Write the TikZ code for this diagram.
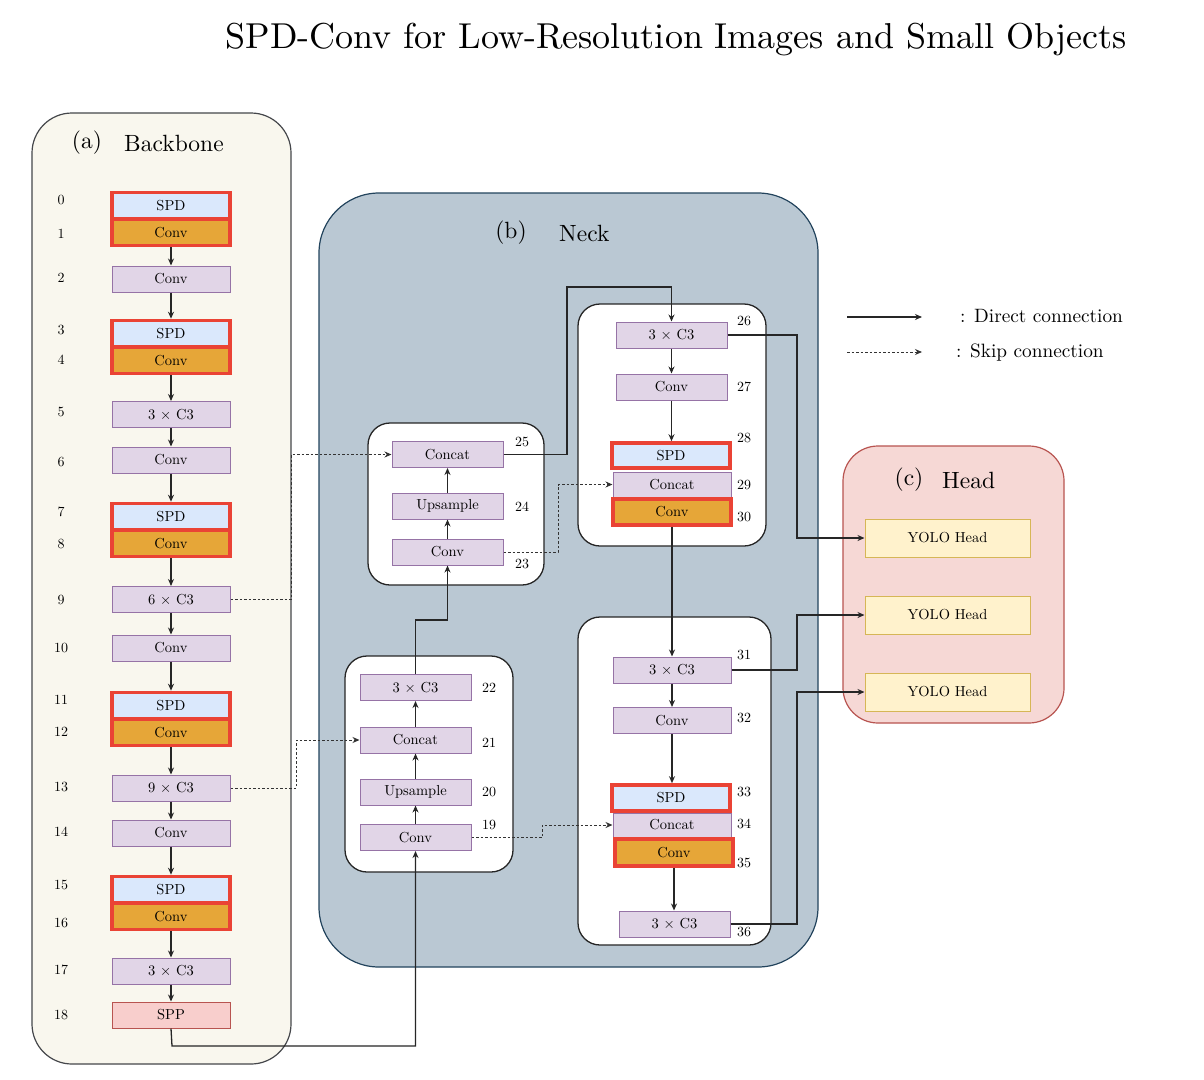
\documentclass[tikz,border=0pt]{standalone}
\usepackage{fontspec}
\setmainfont{lmroman10-regular.otf}
\usetikzlibrary{arrows.meta,calc}
\definecolor{bbFill}{HTML}{F9F7EE}
\definecolor{bbDraw}{HTML}{45474B}
\definecolor{neckFill}{HTML}{BAC8D3}
\definecolor{neckDraw}{HTML}{23445D}
\definecolor{headFill}{HTML}{F6D8D5}
\definecolor{headDraw}{HTML}{B85450}
\definecolor{purF}{HTML}{E1D5E7}
\definecolor{purD}{HTML}{9673A6}
\definecolor{spdF}{HTML}{DAE8FC}
\definecolor{convF}{HTML}{E6A638}
\definecolor{redD}{HTML}{EA4335}
\definecolor{sppF}{HTML}{F8CECC}
\definecolor{sppD}{HTML}{B85450}
\definecolor{yoF}{HTML}{FFF2CC}
\definecolor{yoD}{HTML}{D6B656}
\newcommand\fsNode{\fontsize{14.5}{16}\selectfont}
\newcommand\fsLab{\fontsize{14}{16}\selectfont}
\newcommand\fsHead{\fontsize{23.5}{26}\selectfont}
\tikzset{
  blk/.style={draw=purD, fill=purF, line width=1pt, minimum width=#1, minimum height=26pt, inner sep=0pt, font=\fsNode},
  blk/.default=118pt,
  spdbox/.style={draw=redD, fill=spdF, line width=3.6pt, minimum width=#1, minimum height=26pt, inner sep=0pt, font=\fsNode},
  spdbox/.default=118pt,
  convbox/.style={draw=redD, fill=convF, line width=3.6pt, minimum width=#1, minimum height=26pt, inner sep=0pt, font=\fsNode},
  convbox/.default=118pt,
  sppbox/.style={draw=sppD, fill=sppF, line width=1pt, minimum width=118pt, minimum height=26pt, inner sep=0pt, font=\fsNode},
  yolo/.style={draw=yoD, fill=yoF, line width=1pt, minimum width=165pt, minimum height=38pt, inner sep=0pt, font=\fsNode},
  lab/.style={font=\fsLab, inner sep=0pt},
  grp/.style={draw=black!85, fill=white, line width=1.3pt, rounded corners=22pt},
  arr/.style={draw=black!85, line width=1.3pt, -{Stealth[length=7pt,width=6pt]}},
  skp/.style={draw=black!80, line width=1pt, dash pattern=on 2.5pt off 2pt, -{Stealth[length=7pt,width=6pt]}},
}
\begin{document}
\begin{tikzpicture}[x=1pt,y=-1pt]
\useasboundingbox[fill=white] (0,0) rectangle (1204,1079);

% title
\node[font=\fontsize{36}{40}\selectfont, inner sep=0pt] (title) at (676,40) {SPD-Conv for Low-Resolution Images and Small Objects};

% containers
\draw[fill=bbFill, draw=bbDraw, line width=1.2pt, rounded corners=40pt] (32,113) rectangle (291,1064);
\draw[fill=neckFill, draw=neckDraw, line width=1.2pt, rounded corners=60pt] (319,193) rectangle (818,967);
\draw[fill=headFill, draw=headDraw, line width=1.2pt, rounded corners=35pt] (843,446) rectangle (1064,723);
\draw[grp] (345,656) rectangle (513,872);
\draw[grp] (368,423) rectangle (544,585);
\draw[grp] (578,304) rectangle (766,546);
\draw[grp] (578,617) rectangle (771,945);

% headings
\node[font=\fsHead, inner sep=0pt] (ha1) at (87,143) {(a)};
\node[font=\fsHead, inner sep=0pt, anchor=west] (ha2) at (124,143) {Backbone};
\node[font=\fsHead, inner sep=0pt] (hb1) at (511,233) {(b)};
\node[font=\fsHead, inner sep=0pt, anchor=west] (hb2) at (559,233) {Neck};
\node[font=\fsHead, inner sep=0pt] (hc1) at (909,480) {(c)};
\node[font=\fsHead, inner sep=0pt, anchor=west] (hc2) at (942,480) {Head};

% backbone nodes
\node[spdbox] (s0) at (171,205.5) {SPD};
\node[convbox] (c1) at (171,232.5) {Conv};
\node[blk] (n2) at (171,279) {Conv};
\node[spdbox] (s3) at (171,333.5) {SPD};
\node[convbox] (c4) at (171,360.5) {Conv};
\node[blk] (n5) at (171,414.5) {3 $\times$ C3};
\node[blk] (n6) at (171,460) {Conv};
\node[spdbox] (s7) at (171,516.5) {SPD};
\node[convbox] (c8) at (171,543.5) {Conv};
\node[blk] (n9) at (171,599.5) {6 $\times$ C3};
\node[blk] (n10) at (171,648) {Conv};
\node[spdbox] (s11) at (171,705.5) {SPD};
\node[convbox] (c12) at (171,732.5) {Conv};
\node[blk] (n13) at (171,788) {9 $\times$ C3};
\node[blk] (n14) at (171,833) {Conv};
\node[spdbox] (s15) at (171,889.5) {SPD};
\node[convbox] (c16) at (171,916.5) {Conv};
\node[blk] (n17) at (171,971) {3 $\times$ C3};
\node[sppbox] (n18) at (171,1015) {SPP};

% backbone labels
\foreach \t/\yy in {0/200,1/234,2/278,3/330,4/360,5/412,6/462,7/512,8/544,9/600,10/648,11/700,12/732,13/787,14/832,15/885,16/923,17/970,18/1015}
  \node[lab] (lb\t) at (61,\yy) {\t};

% neck group 1
\node[blk=111pt] (n22) at (415.5,687.5) {3 $\times$ C3};
\node[blk=111pt] (n21) at (415.5,740) {Concat};
\node[blk=111pt] (n20) at (415.5,792) {Upsample};
\node[blk=111pt] (n19) at (415.5,837.5) {Conv};
\node[lab] (lb22) at (489,688) {22};
\node[lab] (lb21) at (489,743) {21};
\node[lab] (lb20) at (489,792) {20};
\node[lab] (lb19) at (489,825) {19};

% neck group 2
\node[blk=111pt] (n25) at (447.5,454.5) {Concat};
\node[blk=111pt] (n24) at (447.5,506) {Upsample};
\node[blk=111pt] (n23) at (447.5,552) {Conv};
\node[lab] (lb25) at (522,442) {25};
\node[lab] (lb24) at (522,507) {24};
\node[lab] (lb23) at (522,564) {23};

% neck group 3
\node[blk=111pt] (n26) at (671.5,335) {3 $\times$ C3};
\node[blk=111pt] (n27) at (671.5,387) {Conv};
\node[spdbox, minimum height=25pt] (s28) at (671,455.5) {SPD};
\node[blk, minimum height=25pt] (cc29) at (672,484.5) {Concat};
\node[convbox] (c30) at (672,512) {Conv};
\node[lab] (lb26) at (744,321) {26};
\node[lab] (lb27) at (744,387) {27};
\node[lab] (lb28) at (744,438) {28};
\node[lab] (lb29) at (744,485) {29};
\node[lab] (lb30) at (744,517) {30};

% neck group 4
\node[blk] (n31) at (672,670) {3 $\times$ C3};
\node[blk] (n32) at (672,720.5) {Conv};
\node[spdbox] (s33) at (671,798) {SPD};
\node[blk, minimum height=24pt] (cc34) at (672,825) {Concat};
\node[convbox, minimum height=27pt] (c35) at (674,852.5) {Conv};
\node[blk=111pt] (n36) at (674.5,924) {3 $\times$ C3};
\node[lab] (lb31) at (744,655) {31};
\node[lab] (lb32) at (744,718) {32};
\node[lab] (lb33) at (744,792) {33};
\node[lab] (lb34) at (744,824) {34};
\node[lab] (lb35) at (744,863) {35};
\node[lab] (lb36) at (744,932) {36};

% head
\node[yolo] (y1) at (947.5,538) {YOLO Head};
\node[yolo] (y2) at (947.5,615) {YOLO Head};
\node[yolo] (y3) at (947.5,692) {YOLO Head};

% backbone connectors
\foreach \a/\b in {c1/n2, n2/s3, c4/n5, n5/n6, n6/s7, c8/n9, n9/n10, n10/s11, c12/n13, n13/n14, n14/s15, c16/n17, n17/n18}
  \draw[arr] (\a.south) -- (\b.north);

% helper coordinates
\coordinate (xs1) at (291,0);
\coordinate (xs2) at (296,0);
\coordinate (xs3) at (558,0);
\coordinate (xs4) at (542,0);
\coordinate (xr) at (797,0);
\coordinate (k1) at (415.5,620);
\coordinate (k2) at (567,287);
\coordinate (k3) at (172,1046);

% SPP to neck
\draw[arr] (n18.south) -- (k3) -| (n19.south);
% neck group 1
\draw[arr] (n19.north) -- (n20.south);
\draw[arr] (n20.north) -- (n21.south);
\draw[arr] (n21.north) -- (n22.south);
\draw[arr] (n22.north) -- (k1) -| (n23.south);
% group 2
\draw[arr] (n23.north) -- (n24.south);
\draw[arr] (n24.north) -- (n25.south);
\draw[arr] (n25.east) -| (k2) -| (n26.north);
% group 3
\draw[arr] (n26.south) -- (n27.north);
\draw[arr] (n27.south) -- (n27.south |- s28.north);
\draw[arr] (c30.south) -- (c30.south |- n31.north);
% group 4
\draw[arr] (n31.south) -- (n32.north);
\draw[arr] (n32.south) -- (n32.south |- s33.north);
\draw[arr] (c35.south) -- (c35.south |- n36.north);
% to heads
\draw[arr] (n26.east) -- (n26.east -| xr) |- (y1.west);
\draw[arr] (n31.east) -- (n31.east -| xr) |- (y2.west);
\draw[arr] (n36.east) -- (n36.east -| xr) |- (y3.west);

% skip connections
\draw[skp] (n9.east) -| (xs1 |- n25.west) -- (n25.west);
\draw[skp] (n13.east) -| (xs2 |- n21.west) -- (n21.west);
\draw[skp] (n23.east) -| (xs3 |- cc29.west) -- (cc29.west);
\draw[skp] (n19.east) -| (xs4 |- cc34.west) -- (cc34.west);

% legend
\coordinate (la1) at (847,317);
\coordinate (la2) at (922,317);
\coordinate (lb1) at (847,352);
\coordinate (lb2) at (922,352);
\draw[arr] (la1) -- (la2);
\draw[skp] (lb1) -- (lb2);
\node[font=\fontsize{19.3}{21}\selectfont, anchor=west, inner sep=0pt] (lt1) at (960,316) {: Direct connection};
\node[font=\fontsize{19.3}{21}\selectfont, anchor=west, inner sep=0pt] (lt2) at (956,353) {: Skip connection};
\end{tikzpicture}
\end{document}
